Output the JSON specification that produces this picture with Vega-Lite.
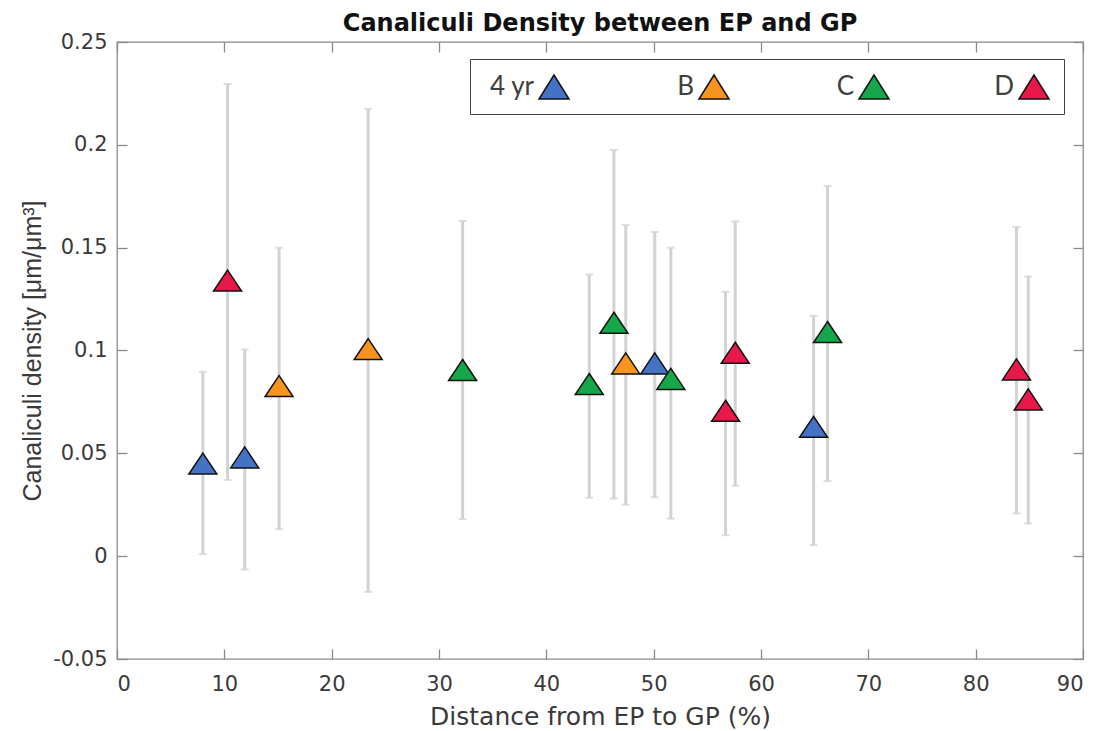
{
  "$schema": "https://vega.github.io/schema/vega-lite/v6.json",
  "width": 966,
  "height": 617,
  "autosize": {"type": "none"},
  "padding": {"left": 117, "top": 42, "right": 22, "bottom": 72},
  "title": {"text": "Canaliculi Density between EP and GP", "font": "DejaVu Sans", "fontSize": 24, "fontWeight": "bold", "color": "#111111", "offset": -5},
  "config": {
    "view": {"stroke": "#8a8a8a", "strokeWidth": 1.3},
    "axis": {"grid": false, "domain": false, "tickColor": "#8a8a8a", "tickWidth": 1.3, "tickSize": 10, "offset": -10, "labelFont": "DejaVu Sans", "labelFontSize": 21, "labelColor": "#3a3a3a", "titleColor": "#3a3a3a", "titleFontWeight": "normal"}
  },
  "data": {"values": [
    {"group": "4 yr", "x": 8.0, "y": 0.045, "lo": 0.001, "hi": 0.0896},
    {"group": "4 yr", "x": 11.9, "y": 0.048, "lo": -0.0065, "hi": 0.1005},
    {"group": "4 yr", "x": 50.1, "y": 0.0937, "lo": 0.0286, "hi": 0.1576},
    {"group": "4 yr", "x": 64.9, "y": 0.0629, "lo": 0.0054, "hi": 0.1169},
    {"group": "B", "x": 15.1, "y": 0.0827, "lo": 0.0131, "hi": 0.150},
    {"group": "B", "x": 23.4, "y": 0.1007, "lo": -0.0174, "hi": 0.2174},
    {"group": "B", "x": 47.4, "y": 0.0937, "lo": 0.025, "hi": 0.161},
    {"group": "C", "x": 32.2, "y": 0.0905, "lo": 0.018, "hi": 0.163},
    {"group": "C", "x": 44.0, "y": 0.0837, "lo": 0.0284, "hi": 0.137},
    {"group": "C", "x": 46.3, "y": 0.1135, "lo": 0.028, "hi": 0.1975},
    {"group": "C", "x": 51.6, "y": 0.0862, "lo": 0.0183, "hi": 0.150},
    {"group": "C", "x": 66.2, "y": 0.109, "lo": 0.0365, "hi": 0.180},
    {"group": "D", "x": 10.3, "y": 0.134, "lo": 0.037, "hi": 0.2296},
    {"group": "D", "x": 56.7, "y": 0.0707, "lo": 0.0102, "hi": 0.1286},
    {"group": "D", "x": 57.6, "y": 0.0989, "lo": 0.0342, "hi": 0.1628},
    {"group": "D", "x": 83.8, "y": 0.0908, "lo": 0.0208, "hi": 0.160},
    {"group": "D", "x": 84.9, "y": 0.0762, "lo": 0.0159, "hi": 0.136}
  ]},
  "resolve": {"axis": {"x": "independent", "y": "independent"}},
  "layer": [
    {
      "mark": {"type": "rule", "color": "#d2d2d2", "strokeWidth": 3},
      "encoding": {
        "x": {"field": "x", "type": "quantitative", "scale": {"domain": [0, 90], "nice": false, "zero": false},
              "axis": {"orient": "bottom", "values": [0,10,20,30,40,50,60,70,80,90], "labelPadding": 14, "title": "Distance from EP to GP (%)", "titleFont": "DejaVu Sans", "titleFontSize": 25, "titlePadding": 10}},
        "y": {"field": "lo", "type": "quantitative", "scale": {"domain": [-0.05, 0.25], "nice": false, "zero": false},
              "axis": {"orient": "left", "values": [-0.05, 0, 0.05, 0.1, 0.15, 0.2, 0.25], "format": "~g", "labelExpr": "datum.value < 0 ? '-0.05' : datum.label", "labelPadding": 10, "title": "Canaliculi density [μm/μm³]", "titleFont": "Liberation Sans", "titleFontSize": 25, "titlePadding": 7}},
        "y2": {"field": "hi"}
      }
    },
    {
      "mark": {"type": "tick", "color": "#d2d2d2", "orient": "horizontal", "size": 8, "thickness": 2},
      "encoding": {
        "x": {"field": "x", "type": "quantitative", "axis": {"orient": "top", "values": [0,10,20,30,40,50,60,70,80,90], "labels": false, "title": null}},
        "y": {"field": "lo", "type": "quantitative", "axis": {"orient": "right", "values": [-0.05, 0, 0.05, 0.1, 0.15, 0.2, 0.25], "labels": false, "title": null}}
      }
    },
    {
      "mark": {"type": "tick", "color": "#d2d2d2", "orient": "horizontal", "size": 8, "thickness": 2},
      "encoding": {
        "x": {"field": "x", "type": "quantitative", "axis": null},
        "y": {"field": "hi", "type": "quantitative", "axis": null}
      }
    },
    {
      "mark": {"type": "point", "filled": true, "shape": "M0,-0.75L1,0.75L-1,0.75Z", "size": 784, "stroke": "#111111", "strokeWidth": 1.5, "opacity": 1},
      "encoding": {
        "x": {"field": "x", "type": "quantitative", "axis": null},
        "y": {"field": "y", "type": "quantitative", "axis": null},
        "color": {"field": "group", "type": "nominal",
          "scale": {"domain": ["4 yr", "B", "C", "D"], "range": ["#4472C4", "#F7941D", "#14A84B", "#E8184A"]},
          "legend": {"orient": "none", "legendX": 353, "legendY": 17, "direction": "horizontal", "columns": 4, "title": null,
            "labelFont": "Lato", "labelFontSize": 26, "labelColor": "#404040", "labelAlign": "right", "labelOffset": -36, "symbolOffset": 56,
            "symbolType": "M0,-0.8L1,0.8L-1,0.8Z", "symbolSize": 900, "symbolStrokeColor": "#111111", "symbolStrokeWidth": 1.5, "symbolOpacity": 1,
            "strokeColor": "#404040", "fillColor": "white", "padding": 12, "columnPadding": 70, "gridAlign": "all"}
        }
      }
    }
  ]
}
